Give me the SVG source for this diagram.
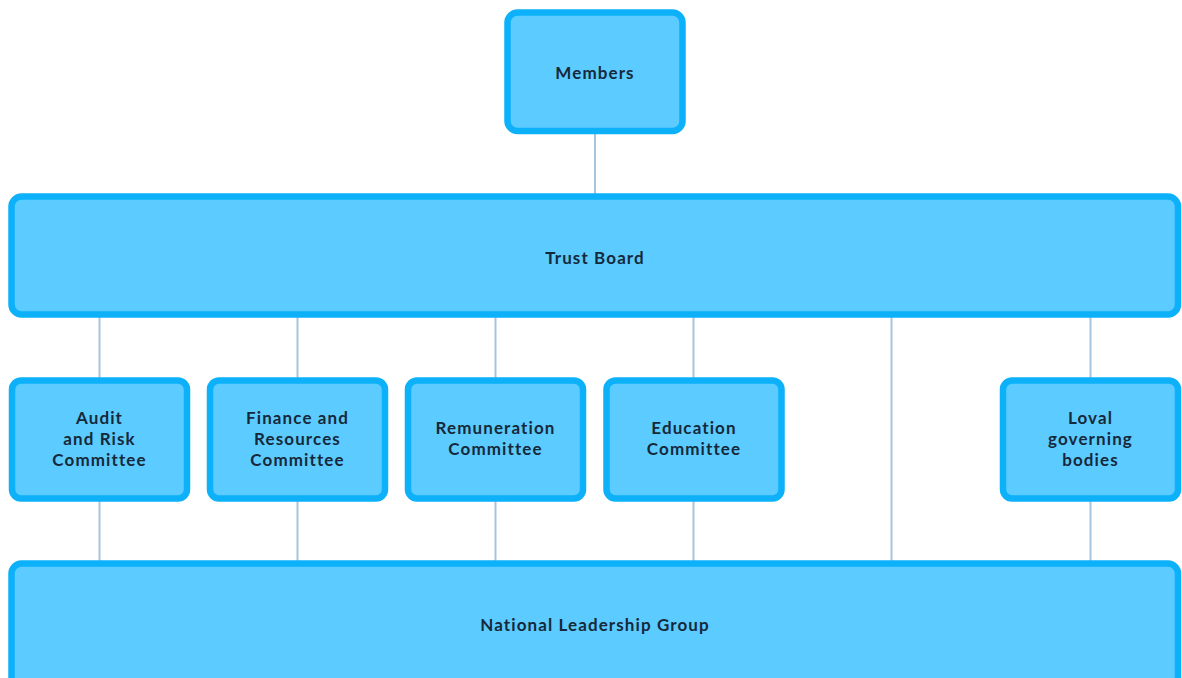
<svg xmlns="http://www.w3.org/2000/svg" width="1182" height="678" viewBox="0 0 1182 678">
<style>
.box{fill:#5ccbff;stroke:#0db1f9;stroke-width:6.5}
.lbl{font-family:Lato,"Open Sans",sans-serif;font-weight:700;font-size:17px;letter-spacing:1.1px;fill:#16293a;text-anchor:middle}
.con{stroke:#a9c3dc;stroke-width:2;fill:none}
</style>
<rect width="1182" height="678" fill="#ffffff"/>
<g id="connectors">
<line class="con" x1="595" y1="134" x2="595" y2="194"/>
<line class="con" x1="99.5" y1="317" x2="99.5" y2="378"/>
<line class="con" x1="297.5" y1="317" x2="297.5" y2="378"/>
<line class="con" x1="495.5" y1="317" x2="495.5" y2="378"/>
<line class="con" x1="693.5" y1="317" x2="693.5" y2="378"/>
<line class="con" x1="891.5" y1="317" x2="891.5" y2="561"/>
<line class="con" x1="1090.5" y1="317" x2="1090.5" y2="378"/>
<line class="con" x1="99.5" y1="501" x2="99.5" y2="561"/>
<line class="con" x1="297.5" y1="501" x2="297.5" y2="561"/>
<line class="con" x1="495.5" y1="501" x2="495.5" y2="561"/>
<line class="con" x1="693.5" y1="501" x2="693.5" y2="561"/>
<line class="con" x1="1090.5" y1="501" x2="1090.5" y2="561"/>
</g>
<g id="members">
<rect class="box" x="507.5" y="12.5" width="175" height="118.5" rx="10"/>
<text class="lbl" x="595" y="79">Members</text>
</g>
<g id="trust-board">
<rect class="box" x="11.5" y="196.5" width="1166.5" height="118" rx="10"/>
<text class="lbl" x="595" y="264">Trust Board</text>
</g>
<g id="audit">
<rect class="box" x="12" y="380.5" width="175" height="118" rx="9"/>
<text class="lbl" x="99.5" y="424"><tspan x="99.5">Audit</tspan><tspan x="99.5" dy="21">and Risk</tspan><tspan x="99.5" dy="21">Committee</tspan></text>
</g>
<g id="finance">
<rect class="box" x="210" y="380.5" width="175" height="118" rx="9"/>
<text class="lbl" x="297.5" y="424"><tspan x="297.5">Finance and</tspan><tspan x="297.5" dy="21">Resources</tspan><tspan x="297.5" dy="21">Committee</tspan></text>
</g>
<g id="remuneration">
<rect class="box" x="408" y="380.5" width="175" height="118" rx="9"/>
<text class="lbl" x="495.5" y="434"><tspan x="495.5">Remuneration</tspan><tspan x="495.5" dy="21">Committee</tspan></text>
</g>
<g id="education">
<rect class="box" x="606.5" y="380.5" width="175" height="118" rx="9"/>
<text class="lbl" x="694" y="434"><tspan x="694">Education</tspan><tspan x="694" dy="21">Committee</tspan></text>
</g>
<g id="local-governing">
<rect class="box" x="1003" y="380.5" width="175" height="118" rx="9"/>
<text class="lbl" x="1090.5" y="424"><tspan x="1090.5">Loval</tspan><tspan x="1090.5" dy="21">governing</tspan><tspan x="1090.5" dy="21">bodies</tspan></text>
</g>
<g id="national-leadership">
<rect class="box" x="11.5" y="563.5" width="1166.5" height="140" rx="10"/>
<text class="lbl" x="595" y="631">National Leadership Group</text>
</g>
</svg>
